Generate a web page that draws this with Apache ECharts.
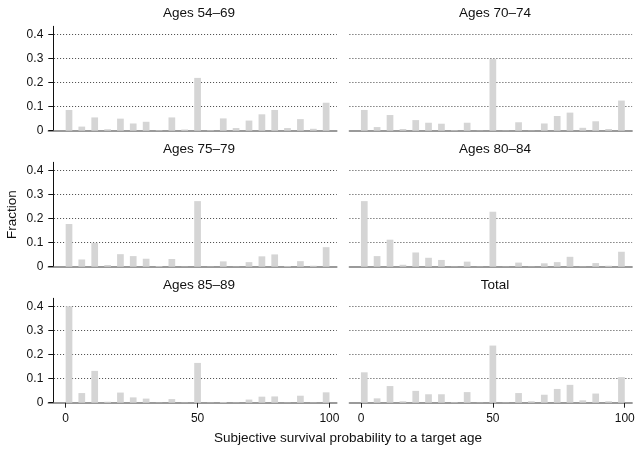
<!DOCTYPE html>
<html>
<head>
<meta charset="utf-8">
<script src="https://cdn.jsdelivr.net/npm/echarts@6/dist/echarts.min.js"></script>
<style>
html,body{margin:0;padding:0;background:#fff;}
#chart{width:641px;height:453px;}
</style>
</head>
<body>
<div id="chart"></div>
<script>
// Bar centers (response bins, 0..100)
var binCenters = [1.25, 6.1, 11, 15.9, 20.75, 25.6, 30.5, 35.4, 40.25, 45.1, 50, 54.9, 59.75, 64.6, 69.5, 74.4, 79.25, 84.1, 89, 93.9, 98.75];
var xTickValues = [0, 50, 100];
var yTickValues = [0, 0.1, 0.2, 0.3, 0.4];
var panelTitles = ['Ages 54\u201369', 'Ages 70\u201374', 'Ages 75\u201379', 'Ages 80\u201384', 'Ages 85\u201389', 'Total'];

var ages54_69 = [0.086, 0.017, 0.055, 0.006, 0.050, 0.030, 0.037, 0.002, 0.055, 0.005, 0.219, 0.002, 0.051, 0.011, 0.042, 0.068, 0.086, 0.011, 0.048, 0.008, 0.116];
var ages70_74 = [0.086, 0.015, 0.065, 0.007, 0.044, 0.033, 0.029, 0.002, 0.033, 0.001, 0.297, 0.001, 0.035, 0.001, 0.030, 0.061, 0.075, 0.012, 0.039, 0.007, 0.125];
var ages75_79 = [0.177, 0.030, 0.099, 0.007, 0.052, 0.044, 0.033, 0.003, 0.032, 0.001, 0.272, 0.001, 0.022, 0.001, 0.019, 0.043, 0.051, 0.003, 0.023, 0.004, 0.081];
var ages80_84 = [0.272, 0.044, 0.112, 0.008, 0.059, 0.037, 0.028, 0.001, 0.021, 0.001, 0.228, 0.001, 0.017, 0.001, 0.014, 0.019, 0.041, 0.001, 0.015, 0.004, 0.062];
var ages85_89 = [0.400, 0.040, 0.132, 0.004, 0.042, 0.022, 0.017, 0.001, 0.015, 0.001, 0.165, 0.001, 0.003, 0.001, 0.013, 0.025, 0.026, 0.001, 0.029, 0.001, 0.043];
var total     = [0.126, 0.018, 0.069, 0.006, 0.049, 0.035, 0.035, 0.002, 0.044, 0.001, 0.237, 0.001, 0.040, 0.006, 0.033, 0.057, 0.074, 0.010, 0.038, 0.006, 0.106];
var panelValues = [ages54_69, ages70_74, ages75_79, ages80_84, ages85_89, total];

var FONT = '"Liberation Sans", Arial, Helvetica, sans-serif';
var yMax = 0.433;
var xMaxVal = 102.8;
var rowTops = [26.3, 162.3, 298.3];
var rowH = 104.4;
var colLeft = [48.3, 349.4];
var colWidth = [288.5, 282.7];
var colXMin = [-6.6, -4.4];
var titleX = [199, 495];

var grids = [], xAxes = [], yAxes = [], series = [], graphics = [];
for (var p = 0; p < 6; p++) {
  var row = Math.floor(p / 2), col = p % 2;
  var bottom = row === 2;
  grids.push({left: colLeft[col], top: rowTops[row], width: colWidth[col], height: rowH, containLabel: false});
  xAxes.push({
    type: 'value', gridIndex: p, min: colXMin[col], max: xMaxVal,
    axisLine: {show: true, onZero: false, lineStyle: {color: '#7a7a7a', width: 1.5}},
    axisTick: {show: bottom, customValues: xTickValues, length: 5, lineStyle: {color: '#222', width: 1}},
    axisLabel: {show: bottom, customValues: xTickValues, margin: 10, color: '#111', fontSize: 12, fontFamily: FONT},
    splitLine: {show: false}
  });
  yAxes.push({
    type: 'value', gridIndex: p, min: 0, max: yMax, show: col === 0,
    offset: -5,
    axisLine: {show: true, onZero: false, lineStyle: {color: '#111', width: 1}},
    axisTick: {show: true, customValues: yTickValues, length: 5, lineStyle: {color: '#111', width: 1}},
    axisLabel: {customValues: yTickValues, margin: 10, color: '#111', fontSize: 12, fontFamily: FONT,
      formatter: function (v) { return String(Math.round(v * 10) / 10); }},
    splitLine: {show: false}
  });
  var gx0 = col === 0 ? -4.4 : colXMin[col];
  var mlData = [];
  for (var k = 1; k < yTickValues.length; k++) {
    mlData.push([{coord: [gx0, yTickValues[k]]}, {coord: [xMaxVal, yTickValues[k]]}]);
  }
  series.push({
    type: 'bar', xAxisIndex: p, yAxisIndex: p,
    data: binCenters.map(function (x, i) { return [x, panelValues[p][i]]; }),
    barWidth: 6.7,
    itemStyle: {color: '#d5d5d5'},
    silent: true,
    markLine: {
      silent: true, symbol: ['none', 'none'], label: {show: false},
      lineStyle: {color: '#444', width: 1, type: [1, 2]},
      animation: false,
      z: 1,
      data: mlData
    },
    z: 2
  });
  graphics.push({
    type: 'text', x: titleX[col], y: rowTops[row] - 13.5,
    style: {text: panelTitles[p], font: '13.5px ' + FONT, fill: '#111',
      align: 'center', verticalAlign: 'middle', textAlign: 'center', textVerticalAlign: 'middle'}
  });
}
graphics.push({
  type: 'text', x: 348, y: 438,
  style: {text: 'Subjective survival probability to a target age', font: '13.5px ' + FONT, fill: '#111',
    align: 'center', verticalAlign: 'middle', textAlign: 'center', textVerticalAlign: 'middle'}
});
graphics.push({
  type: 'text', x: 12, y: 214.5, rotation: Math.PI / 2,
  style: {text: 'Fraction', font: '13.5px ' + FONT, fill: '#111',
    align: 'center', verticalAlign: 'middle', textAlign: 'center', textVerticalAlign: 'middle'}
});

var chart = echarts.init(document.getElementById('chart'), null, {renderer: 'canvas'});
chart.setOption({
  animation: false,
  backgroundColor: '#fff',
  grid: grids,
  xAxis: xAxes,
  yAxis: yAxes,
  series: series,
  graphic: graphics
});
</script>
</body>
</html>
